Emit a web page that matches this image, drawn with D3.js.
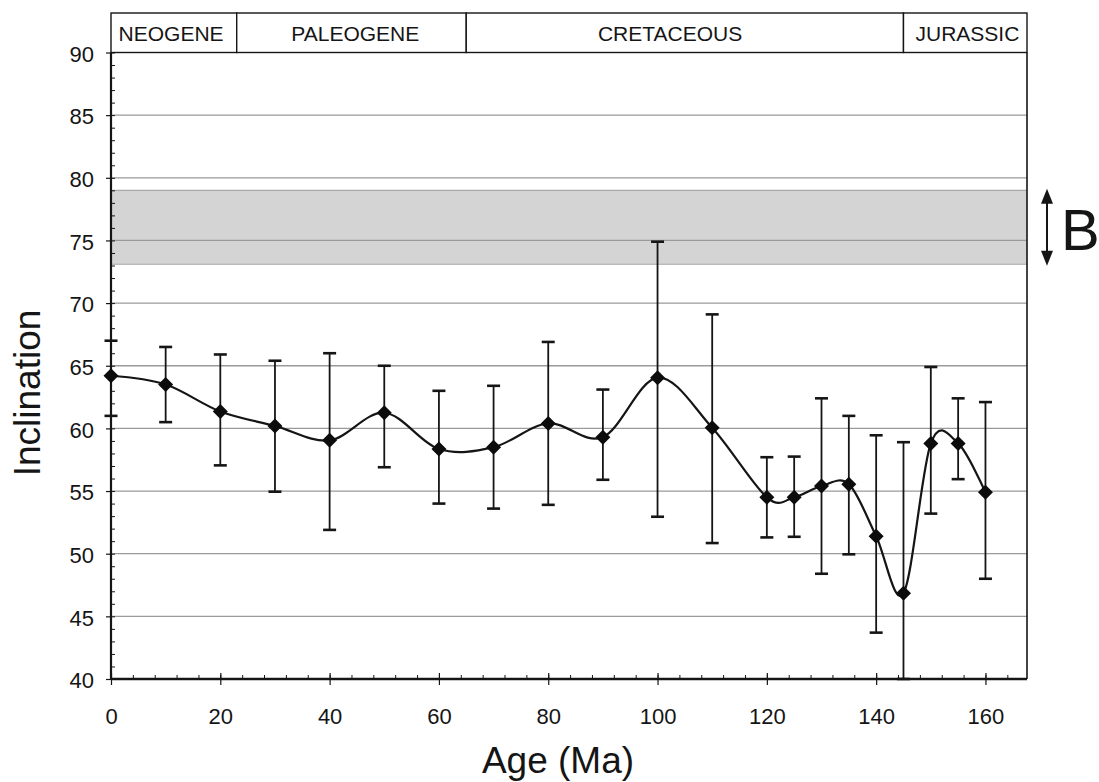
<!DOCTYPE html>
<html>
<head>
<meta charset="utf-8">
<script src="https://cdn.jsdelivr.net/npm/d3@7"></script>
<style>
  html, body { margin: 0; padding: 0; background: #fff; }
  svg { display: block; font-family: "Liberation Sans", Arial, sans-serif; }
</style>
</head>
<body>
<svg id="chart" width="1099" height="782"></svg>
<script>
// Mean inclination by age with error bars
const ages   = [0, 10, 20, 30, 40, 50, 60, 70, 80, 90, 100, 110, 120, 125, 130, 135, 140, 145, 150, 155, 160];
const means  = [64.2, 63.5, 61.35, 60.2, 59.05, 61.25, 58.35, 58.5, 60.4, 59.3, 64.05, 60.05, 54.5, 54.5, 55.4, 55.55, 51.4, 46.85, 58.8, 58.8, 54.9];
const uppers = [67.0, 66.5, 65.9, 65.4, 66.0, 65.0, 63.0, 63.4, 66.9, 63.1, 74.9, 69.1, 57.7, 57.75, 62.4, 61.0, 59.45, 58.9, 64.9, 62.4, 62.1];
const lowers = [61.0, 60.5, 57.05, 54.95, 51.9, 56.9, 54.0, 53.6, 53.9, 55.9, 52.95, 50.85, 51.3, 51.35, 48.4, 49.95, 43.7, 40.0, 53.2, 55.95, 48.0];

// Geological periods shown along the top
const eraNames  = ["NEOGENE", "PALEOGENE", "CRETACEOUS", "JURASSIC"];
const eraStarts = [0, 23, 65, 145];
const eraEnds   = [23, 65, 145, 167.6];
const eraLabelAt = [11, 44.7, 102.3, 156.7];

// Reference band "B"
const bandRange = [73.1, 79.0];
const bandLabel = "B";

const yMajorTicks = d3.range(40, 91, 5);
const yMinorTicks = d3.range(40, 91, 1);
const xMajorTicks = d3.range(0, 161, 20);
const xMinorTicks = d3.range(0, 168, 4);

const svg = d3.select("#chart");
const x = d3.scaleLinear().domain([0, 167.6]).range([111, 1027]);
const y = d3.scaleLinear().domain([40, 90]).range([679, 52.5]);

const ink = "#151515";

// background band
svg.append("rect")
  .attr("x", x(0)).attr("width", x(167.6) - x(0))
  .attr("y", y(bandRange[1])).attr("height", y(bandRange[0]) - y(bandRange[1]))
  .attr("fill", "#d4d4d4");

// horizontal gridlines
svg.append("g").selectAll("line")
  .data(yMajorTicks.filter(v => v > 40 && v < 90))
  .join("line")
  .attr("x1", x(0)).attr("x2", x(167.6))
  .attr("y1", d => y(d)).attr("y2", d => y(d))
  .attr("stroke", "#9a9a9a").attr("stroke-width", 1.3);

// band edges
svg.append("g").selectAll("line")
  .data(bandRange)
  .join("line")
  .attr("x1", x(0)).attr("x2", x(167.6))
  .attr("y1", d => y(d)).attr("y2", d => y(d))
  .attr("stroke", "#a8a8a8").attr("stroke-width", 1.2);

// right border of the plot area
svg.append("line")
  .attr("x1", x(167.6)).attr("x2", x(167.6))
  .attr("y1", y(90)).attr("y2", y(40))
  .attr("stroke", ink).attr("stroke-width", 1.6);

// period header boxes
const header = svg.append("g");
const hTop = 13, hBottom = y(90);
header.selectAll("rect")
  .data(eraNames)
  .join("rect")
  .attr("x", (d, i) => x(eraStarts[i]))
  .attr("width", (d, i) => x(eraEnds[i]) - x(eraStarts[i]))
  .attr("y", hTop).attr("height", hBottom - hTop)
  .attr("fill", "#fff").attr("stroke", ink).attr("stroke-width", 1.4);
header.selectAll("text")
  .data(eraNames)
  .join("text")
  .attr("x", (d, i) => x(eraLabelAt[i]))
  .attr("y", 41)
  .attr("text-anchor", "middle")
  .attr("font-size", 21)
  .attr("fill", ink)
  .text(d => d);

// axes
const yMinor = svg.append("g").attr("transform", `translate(${x(0)},0)`)
  .call(d3.axisLeft(y).tickValues(yMinorTicks).tickSize(-4).tickFormat(""));
yMinor.select(".domain").remove();
yMinor.selectAll("line").attr("stroke", ink).attr("stroke-width", 1);

const yAxis = svg.append("g").attr("transform", `translate(${x(0)},0)`)
  .call(d3.axisLeft(y).tickValues(yMajorTicks).tickSize(5).tickPadding(12).tickFormat(d3.format("d")));
yAxis.select(".domain").attr("stroke", ink).attr("stroke-width", 2.2).attr("d", `M0,${y(90)}V${y(40)}`);
yAxis.selectAll("line").attr("stroke", ink).attr("stroke-width", 1.2);
yAxis.selectAll("text").attr("font-size", 22).attr("fill", ink).attr("dy", "0.4em")
  .attr("font-family", "Liberation Sans, Arial, sans-serif");

const xMinor = svg.append("g").attr("transform", `translate(0,${y(40)})`)
  .call(d3.axisBottom(x).tickValues(xMinorTicks).tickSize(-4).tickFormat(""));
xMinor.select(".domain").remove();
xMinor.selectAll("line").attr("stroke", ink).attr("stroke-width", 1);

const xAxis = svg.append("g").attr("transform", `translate(0,${y(40)})`)
  .call(d3.axisBottom(x).tickValues(xMajorTicks).tickSize(6).tickPadding(23).tickFormat(d3.format("d")));
xAxis.select(".domain").attr("stroke", ink).attr("stroke-width", 2.4).attr("d", `M${x(0)},0H${x(167.6)}`);
xAxis.selectAll(".tick line").attr("y1", -6).attr("stroke", ink).attr("stroke-width", 1.2);
xAxis.selectAll("text").attr("font-size", 22).attr("fill", ink)
  .attr("font-family", "Liberation Sans, Arial, sans-serif");

// axis titles
svg.append("text")
  .attr("x", 558).attr("y", 773)
  .attr("text-anchor", "middle")
  .attr("font-size", 37).attr("fill", ink)
  .text("Age (Ma)");
svg.append("text")
  .attr("transform", "translate(40,393) rotate(-90)")
  .attr("text-anchor", "middle")
  .attr("font-size", 37).attr("fill", ink)
  .text("Inclination");

// data
const pts = ages.map((a, i) => ({ age: a, mean: means[i], hi: uppers[i], lo: lowers[i] }));

const eb = svg.append("g").attr("stroke", ink).attr("stroke-width", 1.8).attr("fill", "none");
const capW = 6.5;
eb.selectAll("line.v").data(pts).join("line").attr("class", "v")
  .attr("x1", d => x(d.age)).attr("x2", d => x(d.age))
  .attr("y1", d => y(d.hi)).attr("y2", d => y(d.lo));
eb.selectAll("line.t").data(pts).join("line").attr("class", "t")
  .attr("x1", d => x(d.age) - capW).attr("x2", d => x(d.age) + capW)
  .attr("y1", d => y(d.hi)).attr("y2", d => y(d.hi)).attr("stroke-width", 2.6);
eb.selectAll("line.b").data(pts).join("line").attr("class", "b")
  .attr("x1", d => x(d.age) - capW).attr("x2", d => x(d.age) + capW)
  .attr("y1", d => y(d.lo)).attr("y2", d => y(d.lo)).attr("stroke-width", 2.6);

const line = d3.line()
  .x(d => x(d.age)).y(d => y(d.mean))
  .curve(d3.curveCardinal.tension(0));
svg.append("path")
  .datum(pts)
  .attr("d", line)
  .attr("fill", "none").attr("stroke", ink).attr("stroke-width", 2.2);

const r = 7.5;
svg.append("g").selectAll("path")
  .data(pts)
  .join("path")
  .attr("d", d => {
    const cx = x(d.age), cy = y(d.mean);
    return `M${cx},${cy - r}L${cx + r},${cy}L${cx},${cy + r}L${cx - r},${cy}Z`;
  })
  .attr("fill", "#0c0c0c");

// double-headed arrow with label for the band
const ax = 1047;
const yTop = y(bandRange[1]) - 1.5, yBot = y(bandRange[0]) + 1.5;
const ah = 15, aw = 6;
svg.append("line")
  .attr("x1", ax).attr("x2", ax)
  .attr("y1", yTop + ah - 2).attr("y2", yBot - ah + 2)
  .attr("stroke", ink).attr("stroke-width", 2);
svg.append("path")
  .attr("d", `M${ax},${yTop}L${ax + aw},${yTop + ah}L${ax - aw},${yTop + ah}Z`)
  .attr("fill", ink);
svg.append("path")
  .attr("d", `M${ax},${yBot}L${ax + aw},${yBot - ah}L${ax - aw},${yBot - ah}Z`)
  .attr("fill", ink);
svg.append("text")
  .attr("x", 1061).attr("y", 250)
  .attr("font-size", 58).attr("fill", ink)
  .text(bandLabel);
</script>
</body>
</html>
